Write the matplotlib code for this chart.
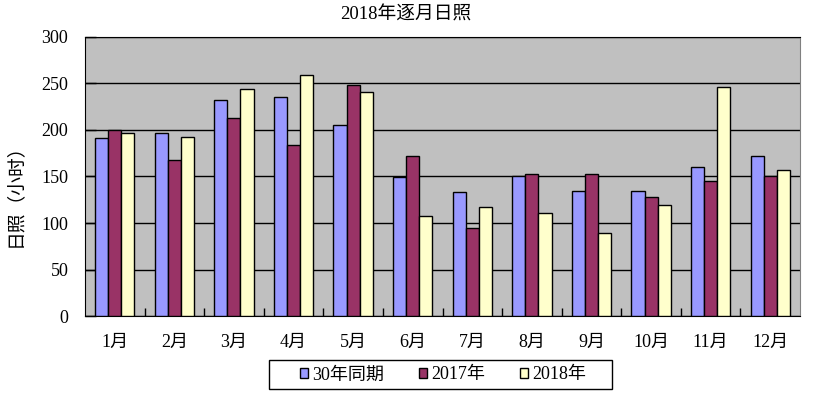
import matplotlib
matplotlib.use('Agg')
import matplotlib.pyplot as plt
from matplotlib.patches import Rectangle
import numpy as np

plt.rcParams['font.family'] = ['Liberation Serif', 'Noto Sans CJK SC']

months = ['1月', '2月', '3月', '4月', '5月', '6月', '7月', '8月', '9月', '10月', '11月', '12月']
normal_30y = [191, 197, 232, 236, 205, 149, 133, 150, 134, 134, 160, 172]
year_2017 = [200, 168, 213, 184, 248, 172, 95, 153, 153, 128, 145, 151]
year_2018 = [197, 193, 244, 259, 241, 107, 117, 111, 89, 119, 246, 157]
series_names = ['30年同期', '2017年', '2018年']
colors = ['#9999FF', '#993366', '#FFFFCC']

fig = plt.figure(figsize=(8.38, 3.96), dpi=100)
ax = fig.add_axes([0.1014, 0.202, 0.8533, 0.7046])
ax.set_facecolor('#C0C0C0')

x = np.arange(len(months))
w = 0.22
for i, (vals, name, c) in enumerate(zip([normal_30y, year_2017, year_2018], series_names, colors)):
    ax.bar(x + (i - 1) * w, vals, w, color=c, edgecolor='black', linewidth=1.0,
           label=name, zorder=3)

ax.set_xlim(-0.5, len(months) - 0.5)
ax.set_ylim(0, 300)
ax.set_yticks(range(0, 301, 50))
ax.yaxis.grid(True, color='black', linewidth=1.0, zorder=1)
ax.tick_params(axis='y', direction='in', length=8, labelsize=13, pad=12, width=1)
ax.set_xticks(x)
ax.set_xticklabels(months, fontsize=13)
ax.tick_params(axis='x', length=0, pad=13)
ax.set_xticks(np.arange(0.5, len(months) - 0.5, 1), minor=True)
ax.tick_params(axis='x', which='minor', direction='in', length=6, width=1)

for s in ['left', 'bottom', 'top']:
    ax.spines[s].set_color('black')
ax.spines['right'].set_color('#808080')

fig.text(15 / 838, 1 - 191 / 396, '日照（小时）', rotation=90, ha='center', va='center', fontsize=13.5)
fig.text(406 / 838, 1 - 15 / 396, '2018年逐月日照', ha='center', va='center', fontsize=13.5)

# legend box
fig.patches.append(Rectangle((269 / 838, 1 - 389 / 396), 343 / 838, 29 / 396,
                             transform=fig.transFigure, facecolor='white',
                             edgecolor='black', linewidth=1.0))
handles, labels = ax.get_legend_handles_labels()
leg = fig.legend(handles, labels, loc='center', bbox_to_anchor=(443 / 838, 1 - 375 / 396),
                 ncol=3, fontsize=13, frameon=False, handlelength=0.45,
                 handleheight=0.45, handletextpad=0.25, columnspacing=1.9,
                 borderpad=0.2)

fig.savefig('out.png', dpi=100)
